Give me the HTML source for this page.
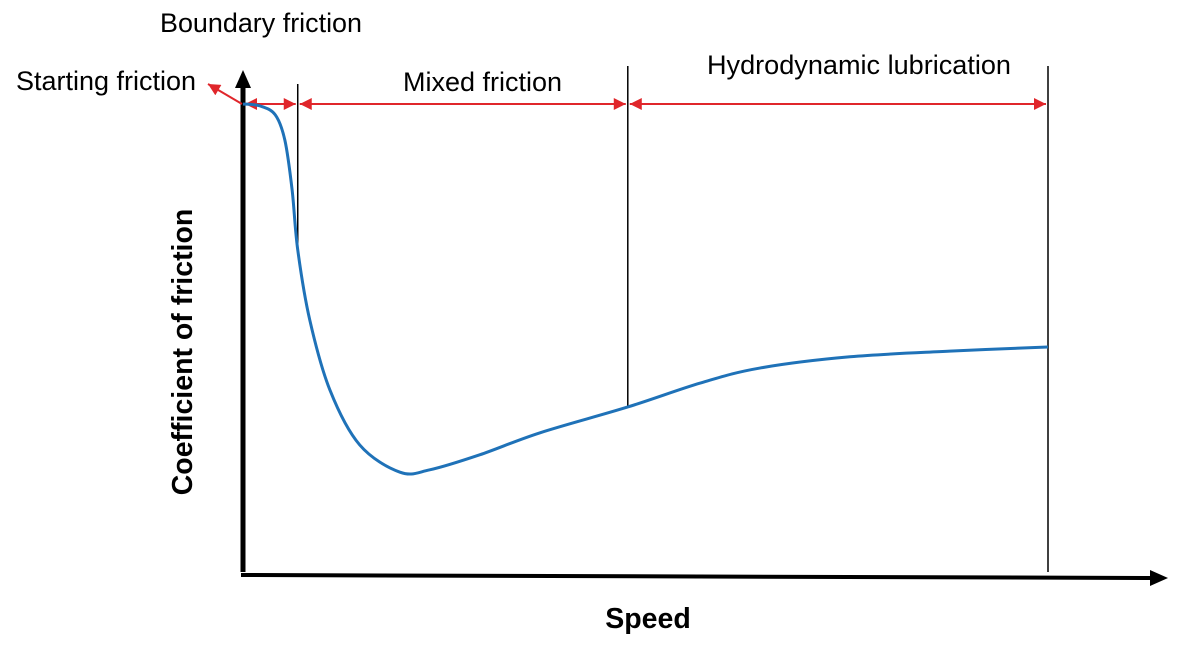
<!DOCTYPE html>
<html><head><meta charset="utf-8"><style>
html,body{margin:0;padding:0;background:#fff;}
svg{display:block;font-family:"Liberation Sans",sans-serif;}
</style></head><body>
<svg id="chart" width="1185" height="657" viewBox="0 0 1185 657">
<defs>
<marker id="ar" viewBox="0 0 10 10" refX="10" refY="5" markerWidth="7" markerHeight="6" orient="auto-start-reverse"><path d="M0,0L10,5L0,10z" fill="#e0262b"/></marker>
</defs>
<g id="regions"></g>
<line x1="243" y1="572" x2="243" y2="85" stroke="#000" stroke-width="5"/>
<polygon points="235,88 243,70 251,88" fill="#000"/>
<line x1="241" y1="575" x2="1152" y2="578" stroke="#000" stroke-width="4"/>
<polygon points="1150,570 1168,578 1150,586" fill="#000"/>
<path id="curve" fill="none" stroke="#1f72b8" stroke-width="3"/>
<line x1="242" y1="104" x2="208" y2="84" stroke="#e0262b" stroke-width="2" marker-end="url(#ar)"/>
<text x="16" y="90" font-size="26.5" textLength="180" lengthAdjust="spacingAndGlyphs">Starting friction</text>
<text x="160" y="32" font-size="26.5" textLength="202" lengthAdjust="spacingAndGlyphs">Boundary friction</text>
<text x="403" y="91" font-size="26.5" textLength="159" lengthAdjust="spacingAndGlyphs">Mixed friction</text>
<text x="707" y="74" font-size="26.5" textLength="304" lengthAdjust="spacingAndGlyphs">Hydrodynamic lubrication</text>
<text x="648" y="628" font-size="28.5" font-weight="bold" text-anchor="middle">Speed</text>
<text transform="translate(192,352) rotate(-90)" font-size="28.5" font-weight="bold" text-anchor="middle">Coefficient of friction</text>
</svg>
<script>
const speed=[0,2.1,4.0,5.2,6.1,6.8,8.3,10.8,14.5,19.5,23.2,29.4,36.9,47.8,56.8,64.2,75.4,87.8,100];
const friction=[100,99.6,97.7,92.3,81.7,68.9,53.9,39.0,27.3,21.5,22.0,25.2,29.9,35.4,40.5,43.7,46.1,47.3,48.2];
const boundaries=[0,6.8,47.8,100];
const dividerTops=[104,84,66,66];
const sx=v=>243+v*8.05;
const sy=v=>573-v*4.69;
const pts=speed.map((s,i)=>[sx(s),sy(friction[i])]);
let d="M"+pts[0][0]+","+pts[0][1];
for(let i=0;i<pts.length-1;i++){
 const p0=pts[Math.max(0,i-1)],p1=pts[i],p2=pts[i+1],p3=pts[Math.min(pts.length-1,i+2)];
 const c1=[p1[0]+(p2[0]-p0[0])/6,p1[1]+(p2[1]-p0[1])/6];
 const c2=[p2[0]-(p3[0]-p1[0])/6,p2[1]-(p3[1]-p1[1])/6];
 d+=` C${c1[0]},${c1[1]} ${c2[0]},${c2[1]} ${p2[0]},${p2[1]}`;
}
document.getElementById('curve').setAttribute('d',d);
const g=document.getElementById('regions');
const NS="http://www.w3.org/2000/svg";
const fAt=s=>{for(let i=0;i<speed.length-1;i++){if(s>=speed[i]&&s<=speed[i+1]){const t=(s-speed[i])/(speed[i+1]-speed[i]);return friction[i]+t*(friction[i+1]-friction[i]);}}return friction[friction.length-1];};
boundaries.forEach((b,i)=>{
 if(i===0)return;
 const l=document.createElementNS(NS,'line');
 l.setAttribute('x1',sx(b));l.setAttribute('x2',sx(b));
 l.setAttribute('y1',dividerTops[i]);
 l.setAttribute('y2',i===boundaries.length-1?572:sy(fAt(b)));
 l.setAttribute('stroke','#000');l.setAttribute('stroke-width','1.5');
 
 
 g.appendChild(l);
});
for(let i=0;i<boundaries.length-1;i++){
 const a=document.createElementNS(NS,'line');
 a.setAttribute('x1',sx(boundaries[i])+2);a.setAttribute('x2',sx(boundaries[i+1])-2);
 a.setAttribute('y1',104);a.setAttribute('y2',104);
 a.setAttribute('stroke','#e0262b');a.setAttribute('stroke-width','2');
 a.setAttribute('marker-start','url(#ar)');a.setAttribute('marker-end','url(#ar)');
 
 
 g.appendChild(a);
}
</script>
</body></html>
